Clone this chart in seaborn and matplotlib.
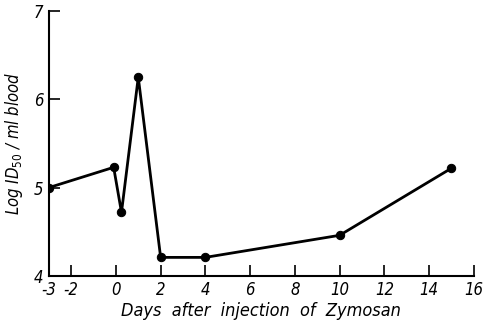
import matplotlib
matplotlib.use('Agg')
import matplotlib.pyplot as plt
import seaborn as sns
import pandas as pd

# values
days = [-3, -0.1, 0.25, 1, 2, 4, 10, 15]
log_id50 = [5.0, 5.23, 4.72, 6.25, 4.21, 4.21, 4.46, 5.22]
x_ticks = [-3, -2, 0, 2, 4, 6, 8, 10, 12, 14, 16]
y_ticks = [4, 5, 6, 7]

df = pd.DataFrame({'day': days, 'log_id50': log_id50})

sns.set_style('ticks')
plt.rcParams['font.family'] = ['DejaVu Sans']
plt.rcParams['font.stretch'] = 'condensed'
plt.rcParams['text.color'] = 'black'
plt.rcParams['axes.labelcolor'] = 'black'

fig = plt.figure(figsize=(4.83, 3.25), dpi=100)
ax = fig.add_axes([0.101, 0.151, 0.880, 0.815])

sns.lineplot(data=df, x='day', y='log_id50', color='black', linewidth=2,
             marker='o', markersize=6, markeredgecolor='black', sort=False, ax=ax)

ax.set_xlim(-3, 16)
ax.set_ylim(4, 7)
ax.set_xticks(x_ticks)
ax.set_yticks(y_ticks)
ax.set_xticklabels([str(t) for t in x_ticks], fontsize=12, style='italic', stretch='condensed')
ax.set_yticklabels([str(t) for t in y_ticks], fontsize=12, style='italic', stretch='condensed')
ax.tick_params(direction='in', length=8, width=1.2, colors='black', labelcolor='black', pad=4)

sns.despine(ax=ax)
for s in ['left', 'bottom']:
    ax.spines[s].set_linewidth(1.5)
    ax.spines[s].set_color('black')

ax.set_xlabel('Days  after  injection  of  Zymosan', fontsize=13, style='italic',
              stretch='condensed', labelpad=2)
ax.set_ylabel('Log ID$_{50}$ / ml blood', fontsize=12, style='italic',
              stretch='condensed', labelpad=6)

fig.savefig('out.png', dpi=100)
